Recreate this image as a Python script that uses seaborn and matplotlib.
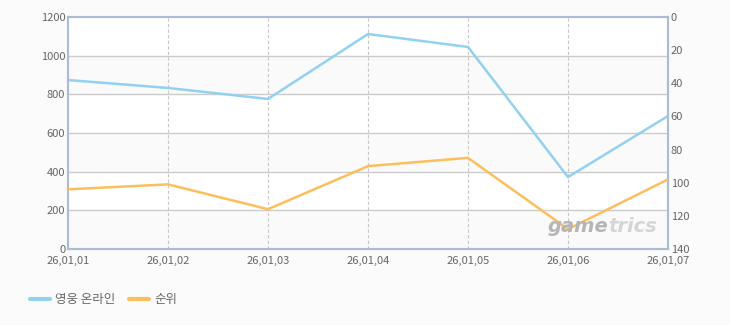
import matplotlib
matplotlib.use("Agg")
import matplotlib.pyplot as plt
import seaborn as sns
import pandas as pd
from matplotlib.lines import Line2D

dates = ["26,01,01", "26,01,02", "26,01,03", "26,01,04", "26,01,05", "26,01,06", "26,01,07"]
users = [874, 833, 776, 1112, 1045, 372, 688]
rank = [104, 101, 116, 90, 85, 128, 98]
series_names = ["영웅 온라인", "순위"]
left_ticks = [0, 200, 400, 600, 800, 1000, 1200]
right_ticks = [0, 20, 40, 60, 80, 100, 120, 140]

sns.set_theme(style="white")
plt.rcParams['font.family'] = ['Noto Sans CJK KR', 'DejaVu Sans']

blue = "#92d1f2"
orange = "#fcbf5c"
tick_col = "#666666"
spine_col = "#aabdd2"

df = pd.DataFrame({"x": range(len(dates)), "users": users, "rank": rank})

fig = plt.figure(figsize=(7.3, 3.25), dpi=100, facecolor="#fbfbfb")
ax = fig.add_axes([68/730, 1-249/325, 600/730, 232/325])
ax.set_facecolor("white")

# alternating bands
for i in range(len(left_ticks) - 1):
    if i % 2 == 0:
        ax.axhspan(left_ticks[i], left_ticks[i+1], color="#fafafa", zorder=0)
for t in left_ticks[1:-1]:
    ax.axhline(t, color="#cccccc", lw=1, zorder=1)
for i in range(1, len(dates) - 1):
    ax.axvline(i, color="#c8c8c8", lw=0.8, ls=(0, (3, 2)), zorder=1)

sns.lineplot(data=df, x="x", y="users", ax=ax, color=blue, lw=1.8, zorder=3, legend=False)
ax.set_xlim(0, len(dates) - 1)
ax.set_ylim(0, 1200)
ax.set_yticks(left_ticks)
ax.set_xticks(range(len(dates)))
ax.set_xticklabels(dates)
ax.set_xlabel("")
ax.set_ylabel("")

ax2 = ax.twinx()
sns.lineplot(data=df, x="x", y="rank", ax=ax2, color=orange, lw=1.8, zorder=3, legend=False)
ax2.set_ylim(140, 0)
ax2.set_yticks(right_ticks)
ax2.set_ylabel("")
ax2.set_xlim(0, len(dates) - 1)

for a in (ax, ax2):
    for s in a.spines.values():
        s.set_color(spine_col)
        s.set_linewidth(1.5)
    a.tick_params(axis="both", labelsize=8, colors=tick_col, length=0, pad=2)

ax.tick_params(axis="x", pad=5)

# watermark
fig.text(608/730, 1-227/325, "game", ha="right", va="center", fontsize=14,
         fontweight="bold", style="italic", color="#b5b5b5", family="DejaVu Sans", zorder=2)
fig.text(608/730, 1-227/325, "trics", ha="left", va="center", fontsize=14,
         fontweight="bold", style="italic", color="#d5d5d5", family="DejaVu Sans", zorder=2)

# legend
handles = [Line2D([0], [0], color=blue, lw=3), Line2D([0], [0], color=orange, lw=3)]
leg = fig.legend(handles, series_names, loc="center left", bbox_to_anchor=(30/730, 1-300/325),
                 ncol=2, frameon=False, fontsize=9, handlelength=1.6, columnspacing=1.1,
                 handletextpad=0.4, borderpad=0, borderaxespad=0)
for t in leg.get_texts():
    t.set_color(tick_col)

fig.savefig("out.png", dpi=100, facecolor=fig.get_facecolor())
